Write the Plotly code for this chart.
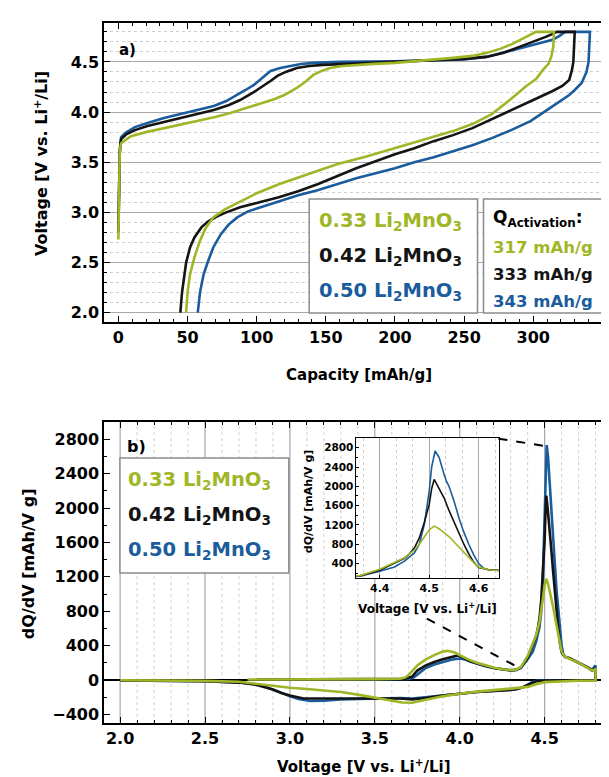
import plotly.graph_objects as go

# ---------------- data: panel a) voltage profiles ----------------
names = ["0.33 Li<sub>2</sub>MnO<sub>3</sub>", "0.42 Li<sub>2</sub>MnO<sub>3</sub>", "0.50 Li<sub>2</sub>MnO<sub>3</sub>"]
q_act = ["317 mAh/g", "333 mAh/g", "343 mAh/g"]
colors = ["#9fb626", "#141414", "#1a5c9c"]

cap_g = [0, 0.5, 1, 1.5, 2, 5, 9, 20, 33, 45, 57, 70, 81, 93, 105, 113, 120, 125, 129, 135, 141, 147, 153, 162,
         172, 185, 200, 214, 228, 242, 256, 266, 276, 285, 292, 298, 302,
         315,
         314.5, 313, 311, 307, 302, 295, 283, 270, 256, 242, 220, 200, 180, 158, 137, 116, 100, 88, 77, 68.6,
         63, 58.8, 55, 51.8, 50, 49]
volt_g = [2.73, 3.3, 3.6, 3.66, 3.69, 3.72, 3.76, 3.80, 3.84, 3.87, 3.91, 3.95, 3.99, 4.04, 4.09, 4.13, 4.17, 4.21, 4.24, 4.30, 4.37, 4.41, 4.44, 4.46,
          4.47, 4.48, 4.49, 4.505, 4.52, 4.54, 4.56, 4.59, 4.63, 4.68, 4.73, 4.77, 4.80,
          4.80,
          4.65, 4.55, 4.48, 4.42, 4.33, 4.26, 4.12, 3.98, 3.88, 3.81, 3.72, 3.64, 3.56, 3.48, 3.38, 3.28, 3.19, 3.11, 3.03, 2.95,
          2.84, 2.71, 2.55, 2.38, 2.2, 2.0]

cap_k = [0, 0.5, 1, 1.5, 2, 6, 12, 21, 33, 45, 57, 69, 80, 88, 97, 105, 110, 115, 121, 129, 138, 148, 165, 185,
         200, 225, 250, 266, 278, 290, 300, 309, 314, 317,
         330,
         329.5, 329, 328, 326, 321, 314, 300, 284, 270, 256, 242, 228, 214, 200, 186, 172, 158, 144, 130, 116, 102,
         88, 78, 71.4, 65, 60, 55, 51.8, 49, 47.6, 46, 44.8]
volt_k = [2.80, 3.3, 3.6, 3.68, 3.73, 3.78, 3.82, 3.86, 3.90, 3.94, 3.98, 4.02, 4.07, 4.12, 4.19, 4.26, 4.31, 4.36, 4.40, 4.44, 4.46, 4.47, 4.48, 4.49,
          4.50, 4.51, 4.53, 4.55, 4.59, 4.65, 4.70, 4.75, 4.78, 4.80,
          4.80,
          4.65, 4.50, 4.42, 4.32, 4.26, 4.21, 4.12, 4.02, 3.93, 3.84, 3.77, 3.71, 3.64, 3.58, 3.51, 3.44, 3.36, 3.28, 3.21, 3.15, 3.10,
          3.05, 3.00, 2.96, 2.91, 2.85, 2.75, 2.65, 2.50, 2.38, 2.2, 2.0]

cap_b = [0, 0.5, 1, 1.5, 2, 6, 12, 21, 33, 45, 57, 69, 78, 86, 92, 98, 104, 110, 117, 124, 132, 141, 160, 200,
         230, 250, 266, 280, 290, 300, 308, 314, 319, 323,
         341,
         340.5, 340, 338.5, 335, 330, 326, 312, 298, 284, 270, 256, 242, 228, 214, 200, 186, 172, 158, 144, 130, 116,
         104, 93.7, 86, 79.8, 74, 68.6, 64.5, 61.6, 59, 57.4]
volt_b = [2.83, 3.3, 3.6, 3.7, 3.75, 3.80, 3.85, 3.89, 3.94, 3.98, 4.02, 4.06, 4.11, 4.17, 4.22, 4.27, 4.34, 4.41, 4.44, 4.46, 4.48, 4.49, 4.50, 4.505,
          4.515, 4.525, 4.55, 4.60, 4.64, 4.675, 4.70, 4.72, 4.76, 4.80,
          4.80,
          4.65, 4.50, 4.40, 4.29, 4.22, 4.17, 4.04, 3.91, 3.82, 3.74, 3.67, 3.61, 3.55, 3.50, 3.44, 3.39, 3.34, 3.28, 3.22, 3.17, 3.11,
          3.06, 3.01, 2.95, 2.88, 2.78, 2.65, 2.50, 2.38, 2.2, 2.0]

# ---------------- data: panel b) differential capacity ----------------
v_dq_g = [2.75, 3.0, 3.5, 3.65, 3.68, 3.70, 3.75, 3.80, 3.85, 3.90, 3.93, 3.97, 4.00, 4.05, 4.10, 4.15, 4.20, 4.25, 4.30, 4.33, 4.36,
          4.40, 4.43, 4.45, 4.47, 4.48, 4.49, 4.50, 4.51, 4.52, 4.53, 4.54, 4.55, 4.56, 4.57, 4.58, 4.59, 4.60, 4.62, 4.65,
          4.70, 4.75, 4.78, 4.80,
          4.80, 4.70, 4.60, 4.50, 4.45, 4.40, 4.30, 4.20, 4.10, 4.00, 3.90, 3.80, 3.72, 3.66, 3.60, 3.50, 3.40, 3.30, 3.20,
          3.10, 3.00, 2.90, 2.80, 2.70, 2.50, 2.00]
dq_g = [5, 5, 10, 15, 30, 60, 170, 240, 290, 330, 340, 320, 290, 240, 200, 170, 145, 125, 115, 120, 150,
        280, 420, 520, 680, 800, 950, 1100, 1176, 1120, 1040, 960, 850, 740, 640, 530, 420, 330, 270, 245,
        200, 145, 110, 125,
        -5, -8, -15, -25, -50, -80, -100, -115, -135, -160, -190, -230, -265, -262, -240, -210, -170, -140, -120,
        -105, -90, -65, -40, -20, -10, -3]

v_dq_k = [2.80, 3.0, 3.5, 3.68, 3.72, 3.75, 3.80, 3.85, 3.90, 3.95, 3.99, 4.02, 4.05, 4.10, 4.15, 4.20, 4.25, 4.30, 4.33, 4.36,
          4.40, 4.43, 4.45, 4.46, 4.47, 4.48, 4.49, 4.50, 4.505, 4.51, 4.52, 4.53, 4.54, 4.55, 4.56, 4.57, 4.58, 4.59, 4.60,
          4.62, 4.65, 4.70, 4.75, 4.78, 4.80,
          4.80, 4.50, 4.45, 4.40, 4.35, 4.30, 4.20, 4.10, 4.00, 3.90, 3.80, 3.72, 3.65, 3.50, 3.30, 3.15, 3.08, 3.00,
          2.95, 2.90, 2.85, 2.80, 2.70, 2.50, 2.00]
dq_k = [5, 6, 10, 15, 40, 110, 170, 210, 240, 270, 285, 260, 230, 195, 165, 140, 125, 112, 118, 145,
        260, 400, 510, 600, 720, 930, 1250, 1624, 1950, 2143, 1950, 1763, 1500, 1260, 1020, 800, 600, 430, 320,
        270, 250, 200, 150, 110, 140,
        0, -5, -15, -60, -100, -115, -125, -140, -160, -180, -210, -225, -215, -215, -215, -222, -215, -180,
        -150, -110, -80, -55, -30, -15, -5]

v_dq_b = [2.85, 3.0, 3.5, 3.70, 3.73, 3.76, 3.80, 3.85, 3.90, 3.95, 4.00, 4.03, 4.06, 4.10, 4.15, 4.20, 4.25, 4.30, 4.33, 4.36,
          4.40, 4.43, 4.45, 4.47, 4.48, 4.49, 4.50, 4.505, 4.512, 4.52, 4.53, 4.535, 4.54, 4.55, 4.56, 4.57, 4.58, 4.59,
          4.60, 4.61, 4.62, 4.65, 4.70, 4.75, 4.78, 4.80,
          4.80, 4.50, 4.45, 4.42, 4.38, 4.33, 4.20, 4.10, 4.00, 3.90, 3.80, 3.72, 3.65, 3.50, 3.30, 3.20, 3.12, 3.05,
          3.00, 2.95, 2.90, 2.85, 2.80, 2.70, 2.50, 2.00]
dq_b = [5, 6, 8, 12, 30, 80, 140, 180, 210, 235, 250, 240, 215, 190, 160, 140, 125, 110, 115, 140,
        240, 330, 450, 620, 800, 1200, 1900, 2400, 2732, 2600, 2250, 2100, 2000, 1700, 1350, 1050, 800, 580,
        400, 300, 270, 250, 200, 150, 120, 170,
        0, -3, -10, -30, -80, -110, -125, -140, -160, -180, -200, -215, -210, -215, -225, -240, -245, -220,
        -190, -150, -110, -75, -50, -28, -15, -5]

# tick values
cap_ticks = [0, 50, 100, 150, 200, 250, 300, 350]
volt_ticks = [2.0, 2.5, 3.0, 3.5, 4.0, 4.5]
dq_ticks = [-400, 0, 400, 800, 1200, 1600, 2000, 2400, 2800]
inset_xticks = [4.4, 4.5, 4.6]
inset_yticks = [400, 800, 1200, 1600, 2000, 2400, 2800]

# ---------------- figure ----------------
FONT = "DejaVu Sans"
fig = go.Figure()

series_a = [(cap_b, volt_b, 2), (cap_k, volt_k, 1), (cap_g, volt_g, 0)]
for cx, vy, i in series_a:
    fig.add_trace(go.Scatter(x=cx, y=vy, mode="lines", line=dict(color=colors[i], width=2.6),
                             xaxis="x", yaxis="y", showlegend=False))

series_b = [(v_dq_b, dq_b, 2), (v_dq_k, dq_k, 1), (v_dq_g, dq_g, 0)]
for vx, dq, i in series_b:
    fig.add_trace(go.Scatter(x=vx, y=dq, mode="lines", line=dict(color=colors[i], width=2.6),
                             xaxis="x2", yaxis="y2", showlegend=False))
for vx, dq, i in series_b:
    fig.add_trace(go.Scatter(x=vx, y=dq, mode="lines", line=dict(color=colors[i], width=1.6),
                             xaxis="x3", yaxis="y3", showlegend=False))

tickfont = dict(family=FONT, size=16, color="black", weight="bold")
common = dict(showline=True, linecolor="black", linewidth=1.5, mirror="allticks", ticks="inside",
              ticklen=6, tickwidth=1.3, tickcolor="black", tickfont=tickfont)

fig.update_layout(
    width=609, height=777,
    margin=dict(l=96, r=5, t=15, b=62),
    paper_bgcolor="white", plot_bgcolor="white",
    font=dict(family=FONT, color="black", size=12),
    xaxis=dict(domain=[0, 1], anchor="y", range=[-10.4, 355.5], tickvals=cap_ticks,
               showgrid=False, zeroline=False,
               minor=dict(dtick=10, tick0=0, ticks="inside", ticklen=3, tickcolor="black", showgrid=False), **common),
    yaxis=dict(domain=[0.5729, 1], anchor="x", range=[1.907, 4.888], tickvals=volt_ticks,
               tickformat=".1f", showgrid=True, gridcolor="#a8a8a8", gridwidth=1.2, zeroline=False,
               minor=dict(dtick=0.1, tick0=2.0, ticks="inside", ticklen=3, tickcolor="black", showgrid=True,
                          gridcolor="#cfcfcf", griddash="dot", gridwidth=1), **common),
    xaxis2=dict(domain=[0, 1], anchor="y2", range=[1.905, 4.885], tickvals=volt_ticks,
                tickformat=".1f", showgrid=False, zeroline=False,
                minor=dict(dtick=0.1, tick0=2.0, ticks="inside", ticklen=3, tickcolor="black", showgrid=False),
                **common),
    yaxis2=dict(domain=[0, 0.43], anchor="x2", range=[-500, 3000], tickvals=dq_ticks,
                showgrid=False, zeroline=True, zerolinecolor="black", zerolinewidth=1.6,
                minor=dict(dtick=200, tick0=0, ticks="inside", ticklen=3, tickcolor="black", showgrid=False), **common),
    xaxis3=dict(domain=[0.499, 0.7815], anchor="y3", range=[4.353, 4.642], tickvals=inset_xticks,
                showline=True, linecolor="black", linewidth=1, mirror=True, ticks="inside", ticklen=3,
                tickcolor="black", tickfont=dict(family=FONT, size=11, color="black", weight="bold"),
                showgrid=True, gridcolor="#a8a8a8", gridwidth=1, zeroline=False,
                minor=dict(dtick=0.1 / 3, tick0=4.4, ticks="", showgrid=True, gridcolor="#cfcfcf",
                           griddash="dot", gridwidth=1)),
    yaxis3=dict(domain=[0.2071, 0.4071], anchor="x3", range=[100, 3000], tickvals=inset_yticks,
                showline=True, linecolor="black", linewidth=1, mirror=True, ticks="inside", ticklen=3,
                tickcolor="black", tickfont=dict(family=FONT, size=10.5, color="black", weight="bold"),
                showgrid=False, zeroline=False,
                minor=dict(dtick=200, ticks="inside", ticklen=2, tickcolor="black")),
)

shapes = []
# panel b) vertical gridlines drawn as shapes (so that the inset backing can hide them)
for k in range(20, 49):
    v = k / 10
    if k % 5 == 0:
        shapes.append(dict(type="line", xref="x2", yref="y2 domain", x0=v, x1=v, y0=0, y1=1,
                           line=dict(color="#a8a8a8", width=1.2), layer="below"))
    else:
        shapes.append(dict(type="line", xref="x2", yref="y2 domain", x0=v, x1=v, y0=0, y1=1,
                           line=dict(color="#cfcfcf", width=1, dash="dot"), layer="below"))
# white backing for inset (covers main-panel gridlines)
shapes.append(dict(type="rect", xref="paper", yref="paper", x0=0.499, x1=0.7815, y0=0.2071, y1=0.4071,
                   fillcolor="white", line=dict(width=0), layer="below"))
# legend boxes
box_line = dict(color="#8c8c8c", width=1.5)
shapes.append(dict(type="rect", xref="paper", yref="paper", x0=0.4055, x1=0.7382, y0=0.5857, y1=0.7486,
                   fillcolor="white", line=box_line, layer="above"))
shapes.append(dict(type="rect", xref="paper", yref="paper", x0=0.75, x1=0.9843, y0=0.5857, y1=0.7486,
                   fillcolor="white", line=box_line, layer="above"))
shapes.append(dict(type="rect", xref="paper", yref="paper", x0=0.0315, x1=0.3652, y0=0.2143, y1=0.3786,
                   fillcolor="white", line=box_line, layer="above"))
# dashed zoom connectors
shapes.append(dict(type="line", xref="x2", yref="y2", x0=4.228, y0=2806, x1=4.502, y1=2721,
                   line=dict(color="black", width=2, dash="dash"), layer="above"))
shapes.append(dict(type="line", xref="x2", yref="y2", x0=3.807, y0=713, x1=4.323, y1=170,
                   line=dict(color="black", width=2, dash="dash"), layer="above"))
fig.update_layout(shapes=shapes)

ann = []
def txt(text, x, y, size, color="black", xanchor="left", angle=0, yanchor="middle"):
    ann.append(dict(text=text, x=x, y=y, xref="paper", yref="paper", showarrow=False, xanchor=xanchor,
                    yanchor=yanchor, textangle=angle,
                    font=dict(family=FONT, size=size, color=color, weight="bold")))

# panel labels
txt("a)", 0.0256, 0.9614, 15)
txt("b)", 0.0413, 0.3943, 16)
# top legend
for i, y in enumerate([0.7171, 0.6671, 0.6171]):
    txt(names[i], 0.4212, y, 19.5, colors[i])
txt("Q<sub>Activation</sub>:", 0.7657, 0.7214, 17)
for i, y in enumerate([0.6786, 0.6404, 0.6024]):
    txt(q_act[i], 0.7657, y, 16.5, colors[i])
# bottom legend
for i, y in enumerate([0.3471, 0.2971, 0.2471]):
    txt(names[i], 0.0432, y, 19.5, colors[i])
# axis titles
txt("Capacity [mAh/g]", 0.503, 0.4976, 15, xanchor="center")
txt("Voltage [V vs. Li<sup>+</sup>/Li]", 0.5148, -0.062, 15, xanchor="center")
txt("Voltage [V vs. Li<sup>+</sup>/Li]", -0.124, 0.799, 16, xanchor="center", angle=-90)
txt("dQ/dV [mAh/V g]", -0.1476, 0.2274, 16, xanchor="center", angle=-90)
# inset titles
txt("Voltage [V vs. Li<sup>+</sup>/Li]", 0.6398, 0.1643, 12, xanchor="center")
txt("dQ/dV [mAh/V g]", 0.4035, 0.3171, 11, xanchor="center", angle=-90)
fig.update_layout(annotations=ann)

fig.write_html("out.html")
